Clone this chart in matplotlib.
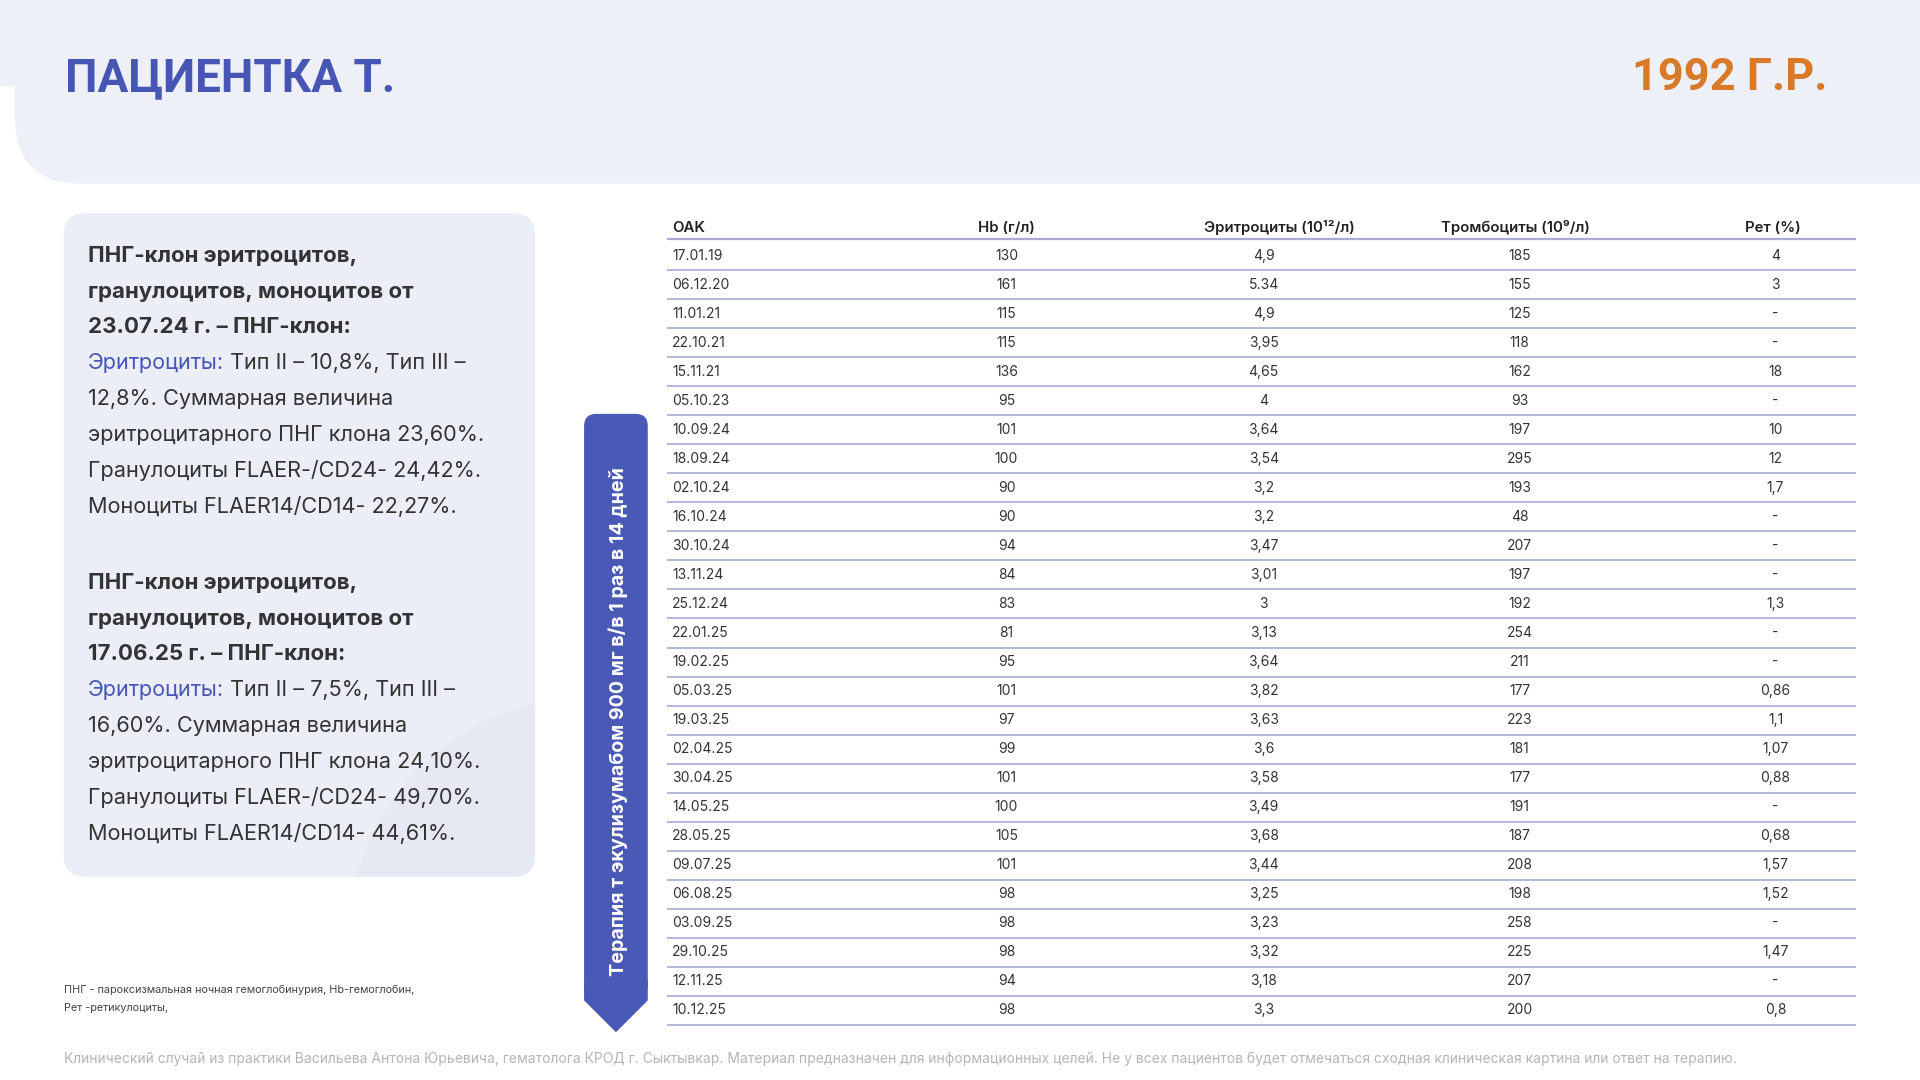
import matplotlib
matplotlib.use("Agg")
import matplotlib.pyplot as plt
from matplotlib.patches import FancyBboxPatch, Polygon, Rectangle, Circle

plt.rcParams['font.family'] = ['Inter', 'DejaVu Sans']

# table data
dates = ["17.01.19", "06.12.20", "11.01.21", "22.10.21", "15.11.21", "05.10.23", "10.09.24",
         "18.09.24", "02.10.24", "16.10.24", "30.10.24", "13.11.24", "25.12.24", "22.01.25",
         "19.02.25", "05.03.25", "19.03.25", "02.04.25", "30.04.25", "14.05.25", "28.05.25",
         "09.07.25", "06.08.25", "03.09.25", "29.10.25", "12.11.25", "10.12.25"]
hb = [130, 161, 115, 115, 136, 95, 101, 100, 90, 90, 94, 84, 83, 81, 95, 101, 97, 99, 101,
      100, 105, 101, 98, 98, 98, 94, 98]
rbc = ["4,9", "5.34", "4,9", "3,95", "4,65", "4", "3,64", "3,54", "3,2", "3,2", "3,47", "3,01",
       "3", "3,13", "3,64", "3,82", "3,63", "3,6", "3,58", "3,49", "3,68", "3,44", "3,25",
       "3,23", "3,32", "3,18", "3,3"]
plt_count = [185, 155, 125, 118, 162, 93, 197, 295, 193, 48, 207, 197, 192, 254, 211, 177,
             223, 181, 177, 191, 187, 208, 198, 258, 225, 207, 200]
ret = ["4", "3", "-", "-", "18", "-", "10", "12", "1,7", "-", "-", "-", "1,3", "-", "-", "0,86",
       "1,1", "1,07", "0,88", "-", "0,68", "1,57", "1,52", "-", "1,47", "-", "0,8"]
headers = ["OAK", "Hb (г/л)", "Эритроциты (10¹²/л)", "Тромбоциты (10⁹/л)", "Рет (%)"]

# left panel text
block1_head = ["ПНГ-клон эритроцитов,", "гранулоцитов, моноцитов от", "23.07.24 г. – ПНГ-клон:"]
block1_body = ["Тип II – 10,8%, Тип III –", "12,8%. Суммарная величина",
               "эритроцитарного ПНГ клона 23,60%.", "Гранулоциты FLAER-/CD24- 24,42%.",
               "Моноциты FLAER14/CD14- 22,27%."]
block2_head = ["ПНГ-клон эритроцитов,", "гранулоцитов, моноцитов от", "17.06.25 г. – ПНГ-клон:"]
block2_body = ["Тип II – 7,5%, Тип III –", "16,60%. Суммарная величина",
               "эритроцитарного ПНГ клона 24,10%.", "Гранулоциты FLAER-/CD24- 49,70%.",
               "Моноциты FLAER14/CD14- 44,61%."]

BLUE = "#4755b5"
ORANGE = "#d97a2b"
PANEL = "#eceef7"
DARK = "#333333"
FS_PANEL = 15.6
FS_TABLE = 10

W, H = 1568, 882
fig = plt.figure(figsize=(19.2, 10.8), dpi=100)
ax = fig.add_axes([0, 0, 1, 1])
ax.set_xlim(0, W)
ax.set_ylim(H, 0)
ax.axis("off")

# header band
ax.add_patch(Rectangle((0, 0), W, 70, color="#eef0f8", lw=0))
ax.add_patch(FancyBboxPatch((12, -80), W + 100, 230, boxstyle="round,pad=0,rounding_size=55",
                            color="#eef0f8", lw=0))
ax.text(53, 64, "ПАЦИЕНТКА Т.", fontsize=33, fontweight="bold", color=BLUE, va="center",
        family=["Roboto", "DejaVu Sans"])
ax.text(1492, 64, "1992 Г.Р.", fontsize=32.5, fontweight="bold", color=ORANGE, va="center",
        ha="right", family=["Roboto", "DejaVu Sans"])

# left panel
panel = FancyBboxPatch((52, 174), 385, 542, boxstyle="round,pad=0,rounding_size=18",
                       color=PANEL, lw=0)
ax.add_patch(panel)
deco = Circle((480, 765), 195, color="#e6e8f3", lw=0)
ax.add_patch(deco)
deco.set_clip_path(panel)

renderer = fig.canvas.get_renderer()
inv = ax.transData.inverted()


def draw_block(y0, head, body):
    y = y0
    for line in head:
        ax.text(72, y, line, fontsize=16, fontweight="bold", color=DARK, va="center")
        y += 29.2
    t = ax.text(72, y, "Эритроциты:", fontsize=FS_PANEL, color=BLUE, va="center")
    bb = t.get_window_extent(renderer)
    x1 = inv.transform((bb.x1, bb.y0))[0]
    ax.text(x1, y, " " + body[0], fontsize=FS_PANEL, color=DARK, va="center")
    y += 29.2
    for line in body[1:]:
        ax.text(72, y, line, fontsize=FS_PANEL, color=DARK, va="center")
        y += 29.2


draw_block(209, block1_head, block1_body)
draw_block(476, block2_head, block2_body)

# vertical therapy banner
ax.add_patch(FancyBboxPatch((477, 338), 52, 477, boxstyle="round,pad=0,rounding_size=10",
                            color="#4a58b6", lw=0))
ax.add_patch(Polygon([(477, 800), (529, 800), (529, 817), (503, 843), (477, 817)],
                     closed=True, color="#4a58b6", lw=0))
ax.text(505, 589, "Терапия т экулизумабом 900 мг в/в 1 раз в 14 дней", rotation=90,
        fontsize=14.2, fontweight="bold", color="white", ha="center", va="center")

# table
col_x = [549, 822, 1032, 1241, 1450]
head_x = [549, 822, 1045, 1238, 1448]
ax.text(head_x[0], 186, headers[0], fontsize=10.8, fontweight="semibold", color="#222222",
        va="center", ha="left")
for hx, h in zip(head_x[1:], headers[1:]):
    ax.text(hx, 186, h, fontsize=10.8, fontweight="semibold", color="#222222",
            va="center", ha="center")
ax.plot([545, 1516], [195, 195], color="#a7abd6", lw=1.6, solid_capstyle="butt")

step = (825 - 209) / (len(dates) - 1)
for i, d in enumerate(dates):
    y = 209 + i * step
    ax.text(col_x[0], y, d, fontsize=FS_TABLE, color=DARK, va="center", ha="left")
    ax.text(col_x[1], y, str(hb[i]), fontsize=FS_TABLE, color=DARK, va="center", ha="center")
    ax.text(col_x[2], y, rbc[i], fontsize=FS_TABLE, color=DARK, va="center", ha="center")
    ax.text(col_x[3], y, str(plt_count[i]), fontsize=FS_TABLE, color=DARK, va="center",
            ha="center")
    ax.text(col_x[4], y, ret[i], fontsize=FS_TABLE, color=DARK, va="center", ha="center")
    ax.plot([545, 1516], [y + 11.8, y + 11.8], color="#b3b6dc", lw=1.4, solid_capstyle="butt")

# footnotes
ax.text(52, 808, "ПНГ - пароксизмальная ночная гемоглобинурия, Hb-гемоглобин,", fontsize=7.8,
        color="#444444", va="center")
ax.text(52, 823, "Рет -ретикулоциты,", fontsize=7.8, color="#444444", va="center")
ax.text(52, 865, "Клинический случай из практики Васильева Антона Юрьевича, гематолога КРОД г. "
        "Сыктывкар. Материал предназначен для информационных целей. Не у всех пациентов будет "
        "отмечаться сходная клиническая картина или ответ на терапию.",
        fontsize=10, color="#b5b5b5", va="center")

fig.savefig("out.png", dpi=100)
